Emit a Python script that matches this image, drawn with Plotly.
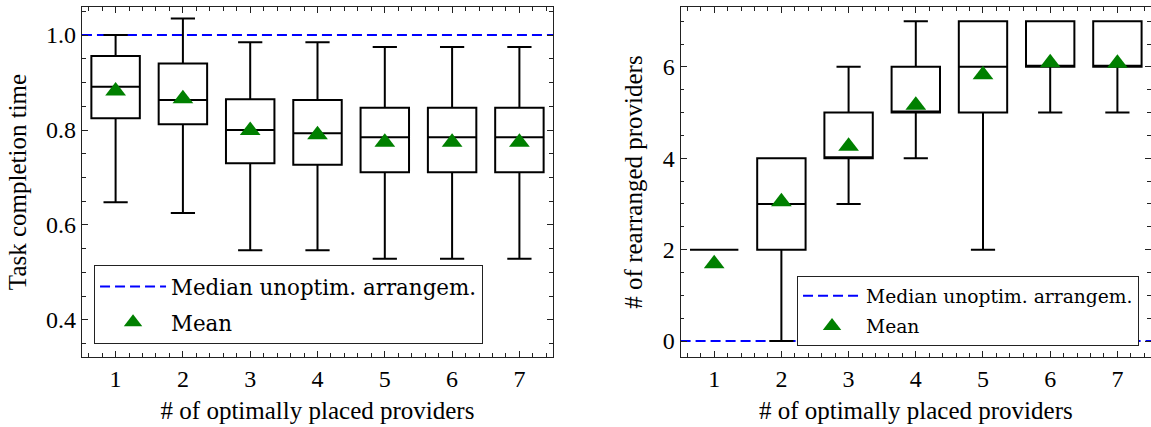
import plotly.graph_objects as go

# Number of optimally placed providers (x categories, shared by both panels)
providers = [1, 2, 3, 4, 5, 6, 7]

# Left panel: task completion time statistics
time_low = [0.648, 0.625, 0.547, 0.547, 0.529, 0.529, 0.529]
time_q1 = [0.825, 0.812, 0.730, 0.727, 0.711, 0.711, 0.711]
time_median = [0.891, 0.863, 0.800, 0.793, 0.785, 0.785, 0.785]
time_q3 = [0.956, 0.940, 0.865, 0.863, 0.847, 0.847, 0.847]
time_high = [1.000, 1.035, 0.985, 0.985, 0.975, 0.975, 0.975]
time_mean = [0.882, 0.866, 0.799, 0.790, 0.774, 0.774, 0.774]
time_baseline = 1.0

# Right panel: number of rearranged providers
moved_low = [2, 0, 3, 4, 2, 5, 5]
moved_q1 = [2, 2, 4, 5, 5, 6, 6]
moved_median = [2, 3, 4, 5, 6, 6, 6]
moved_q3 = [2, 4, 5, 6, 7, 7, 7]
moved_high = [2, 4, 6, 7, 7, 7, 7]
moved_mean = [1.69, 3.05, 4.26, 5.16, 5.83, 6.09, 6.08]
moved_baseline = 0

baseline_label = "Median unoptim. arrangem."
mean_label = "Mean"

FONT = "Liberation Serif"
LEGEND_FONT = "DejaVu Serif"
FRAME = "#222222"
BLUE = "#0000ff"
GREEN = "#008000"

fig = go.Figure()

box_style = dict(
    fillcolor="rgba(255,255,255,0)",
    line=dict(color="black", width=2),
    width=0.72,
    whiskerwidth=0.5,
    boxpoints=False,
    showlegend=False,
)

fig.add_trace(go.Box(
    x=providers, q1=time_q1, median=time_median, q3=time_q3,
    lowerfence=time_low, upperfence=time_high,
    xaxis="x", yaxis="y", **box_style,
))
fig.add_trace(go.Scatter(
    x=providers, y=time_mean, mode="markers", name=mean_label,
    marker=dict(symbol="triangle-up", color=GREEN, size=18),
    xaxis="x", yaxis="y", legend="legend", legendgroup="b", legendrank=2,
))

fig.add_trace(go.Box(
    x=providers, q1=moved_q1, median=moved_median, q3=moved_q3,
    lowerfence=moved_low, upperfence=moved_high,
    xaxis="x2", yaxis="y2", **box_style,
))
fig.add_trace(go.Scatter(
    x=providers, y=moved_mean, mode="markers", name=mean_label,
    marker=dict(symbol="triangle-up", color=GREEN, size=18),
    xaxis="x2", yaxis="y2", legend="legend2", legendgroup="b", legendrank=2,
))

# Horizontal reference lines for the unoptimised arrangement
for xr, yr, val, leg in [("x domain", "y", time_baseline, "legend"),
                         ("x2 domain", "y2", moved_baseline, "legend2")]:
    fig.add_shape(
        type="line", xref=xr, yref=yr, x0=0, x1=1, y0=val, y1=val,
        line=dict(color=BLUE, width=2, dash="10px,5px"),
        layer="below", showlegend=True, name=baseline_label,
        legend=leg, legendgroup="a", legendrank=1,
    )

tick_font = dict(family=FONT, size=24, color="black")
title_font = dict(family=FONT, size=25, color="black")


def xaxis_style(domain, anchor):
    return dict(
        domain=domain, range=[0.5, 7.5], anchor=anchor,
        tickmode="linear", tick0=1, dtick=1,
        ticks="inside", ticklen=6, tickwidth=1, tickcolor=FRAME,
        showline=True, linecolor=FRAME, linewidth=1.3, mirror="allticks",
        showgrid=False, zeroline=False, tickfont=tick_font,
        minor=dict(tick0=0, dtick=0.2, ticks="inside", ticklen=3.5,
                   tickwidth=1, tickcolor=FRAME, showgrid=False),
        title=dict(text="# of optimally placed providers", font=title_font,
                   standoff=10),
    )


def yaxis_style(rng, dtick, minor, fmt, title, anchor):
    return dict(
        domain=[0.1639, 0.9836], range=rng, anchor=anchor,
        tickmode="linear", tick0=0, dtick=dtick, tickformat=fmt,
        ticks="inside", ticklen=6, tickwidth=1, tickcolor=FRAME,
        showline=True, linecolor=FRAME, linewidth=1.3, mirror="allticks",
        showgrid=False, zeroline=False, tickfont=tick_font,
        minor=dict(tick0=0, dtick=minor, ticks="inside", ticklen=3.5,
                   tickwidth=1, tickcolor=FRAME, showgrid=False),
        title=dict(text=title, font=title_font, standoff=12),
    )


legend_common = dict(
    bgcolor="white", bordercolor=FRAME, borderwidth=1,
    yanchor="top", traceorder="grouped",
)

fig.update_layout(
    width=1151, height=427,
    margin=dict(l=0, r=0, t=0, b=0),
    paper_bgcolor="white", plot_bgcolor="white",
    font=dict(family=FONT, color="black"),
    xaxis=xaxis_style([0.0712, 0.4805], "y"),
    yaxis=yaxis_style([0.322, 1.059], 0.2, 0.05, ".1f",
                      "Task completion time", "x"),
    xaxis2=xaxis_style([0.5913, 1.0], "y2"),
    yaxis2=yaxis_style([-0.35, 7.31], 2, 0.5, "d",
                       "# of rearranged providers", "x2"),
    legend=dict(legend_common, x=0.0817, xanchor="left", y=0.3794,
                tracegroupgap=5, itemwidth=66,
                font=dict(family=LEGEND_FONT, size=21.4, color="black")),
    legend2=dict(legend_common, x=0.9896, xanchor="right", y=0.3536,
                 tracegroupgap=3, itemwidth=58,
                 font=dict(family=LEGEND_FONT, size=18.7, color="black")),
    showlegend=True,
)

fig.write_html("out.html")
